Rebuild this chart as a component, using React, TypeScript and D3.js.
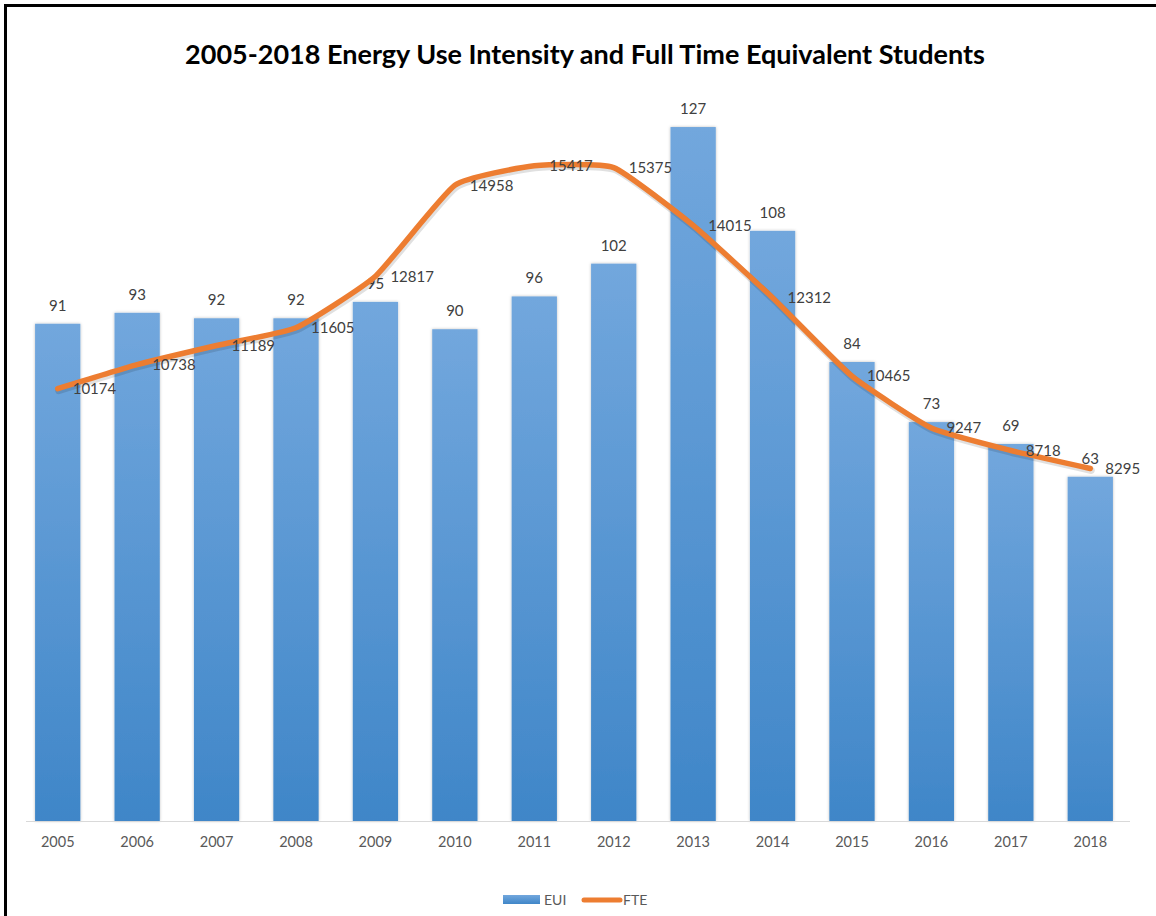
import { useEffect, useRef } from 'react';
import * as d3 from 'd3';

// chart data
const years = ['2005', '2006', '2007', '2008', '2009', '2010', '2011', '2012', '2013', '2014', '2015', '2016', '2017', '2018'];
const eui = [91, 93, 92, 92, 95, 90, 96, 102, 127, 108, 84, 73, 69, 63];
const fte = [10174, 10738, 11189, 11605, 12817, 14958, 15417, 15375, 14015, 12312, 10465, 9247, 8718, 8295];

const TITLE = '2005-2018 Energy Use Intensity and Full Time Equivalent Students';
const FONT = 'Lato, "Open Sans", sans-serif';

export default function App() {
  const svgRef = useRef<SVGSVGElement | null>(null);

  useEffect(() => {
    const el = svgRef.current;
    if (!el) return;
    d3.select(el).selectAll('*').remove();

    const W = 1156;
    const H = 916;
    const svg = d3.select(el).attr('width', W).attr('height', H);

    const defs = svg.append('defs');
    const grad = defs.append('linearGradient')
      .attr('id', 'barGrad')
      .attr('x1', 0).attr('y1', 0).attr('x2', 0).attr('y2', 1);
    grad.append('stop').attr('offset', '0%').attr('stop-color', '#72a7dd');
    grad.append('stop').attr('offset', '100%').attr('stop-color', '#3f86c8');

    const shadow = defs.append('filter').attr('id', 'shadow')
      .attr('x', '-20%').attr('y', '-10%').attr('width', '140%').attr('height', '120%');
    shadow.append('feDropShadow')
      .attr('dx', 0).attr('dy', 0).attr('stdDeviation', 1.5)
      .attr('flood-color', '#000').attr('flood-opacity', 0.25);

    // frame (only top/left visible)
    svg.append('rect')
      .attr('x', 5.5).attr('y', 5.5)
      .attr('width', W + 20).attr('height', H + 20)
      .attr('fill', '#fff')
      .attr('stroke', '#000')
      .attr('stroke-width', 3);

    // title
    svg.append('text')
      .attr('x', 585).attr('y', 64)
      .attr('text-anchor', 'middle')
      .style('font-family', FONT)
      .style('font-weight', 700)
      .style('font-size', '27px')
      .style('fill', '#000')
      .text(TITLE);

    // scales
    const baseY = 821;
    const topY = 56;
    const x = d3.scaleBand<string>().domain(years).range([18, 1130]).paddingInner(0.43).paddingOuter(0.215);
    const yL = d3.scaleLinear().domain([0, 140]).range([baseY, topY]);
    const yR = d3.scaleLinear().domain([0, 18000]).range([baseY, topY]);

    // bars
    svg.append('g')
      .selectAll('rect')
      .data(eui)
      .join('rect')
      .attr('x', (_, i) => x(years[i])!)
      .attr('y', d => yL(d))
      .attr('width', x.bandwidth())
      .attr('height', d => baseY - yL(d))
      .attr('fill', 'url(#barGrad)')
      .attr('filter', 'url(#shadow)');

    // bar labels
    svg.append('g')
      .selectAll('text')
      .data(eui)
      .join('text')
      .attr('x', (_, i) => x(years[i])! + x.bandwidth() / 2)
      .attr('y', d => yL(d) - 13)
      .attr('text-anchor', 'middle')
      .style('font-family', FONT)
      .style('font-size', '15px')
      .style('fill', '#404040')
      .text(d => d);

    // x axis
    const xAxis = svg.append('g')
      .attr('transform', `translate(0,${baseY})`)
      .call(d3.axisBottom(x).tickSize(0).tickPadding(16));
    xAxis.select('.domain').remove();
    xAxis.selectAll('text')
      .style('font-family', FONT)
      .style('font-size', '14.5px')
      .style('fill', '#595959');
    svg.append('line')
      .attr('x1', 26).attr('x2', 1130)
      .attr('y1', baseY + 0.5).attr('y2', baseY + 0.5)
      .attr('stroke', '#d9d9d9').attr('stroke-width', 1);

    // FTE line
    const pts: [number, number][] = fte.map((v, i) => [x(years[i])! + x.bandwidth() / 2, yR(v)]);
    const line = d3.line().curve(d3.curveCardinal.tension(0.55));
    svg.append('path')
      .attr('d', line(pts))
      .attr('fill', 'none')
      .attr('stroke', '#000')
      .attr('stroke-opacity', 0.12)
      .attr('stroke-width', 7)
      .attr('stroke-linecap', 'round')
      .attr('transform', 'translate(1,2)');
    svg.append('path')
      .attr('d', line(pts))
      .attr('fill', 'none')
      .attr('stroke', '#ed7d31')
      .attr('stroke-width', 5.5)
      .attr('stroke-linecap', 'round')
      .attr('stroke-linejoin', 'round');

    // FTE labels (right of point)
    svg.append('g')
      .selectAll('text')
      .data(fte)
      .join('text')
      .attr('x', (_, i) => pts[i][0] + 15)
      .attr('y', (_, i) => pts[i][1])
      .attr('dy', '0.35em')
      .style('font-family', FONT)
      .style('font-size', '15px')
      .style('fill', '#404040')
      .text(d => d);

    // legend
    const lg = svg.append('g').style('font-family', FONT).style('font-size', '14px').style('fill', '#595959');
    lg.append('rect').attr('x', 503).attr('y', 895).attr('width', 37).attr('height', 9).attr('fill', 'url(#barGrad)');
    lg.append('text').attr('x', 544).attr('y', 900).attr('dy', '0.35em').text('EUI');
    lg.append('line').attr('x1', 584).attr('x2', 620).attr('y1', 900).attr('y2', 900)
      .attr('stroke', '#ed7d31').attr('stroke-width', 5).attr('stroke-linecap', 'round');
    lg.append('text').attr('x', 623).attr('y', 900).attr('dy', '0.35em').text('FTE');
  }, []);

  return (
    <div style={{ position: 'absolute', left: 0, top: 0 }}>
      <svg ref={svgRef} style={{ display: 'block' }} />
    </div>
  );
}
